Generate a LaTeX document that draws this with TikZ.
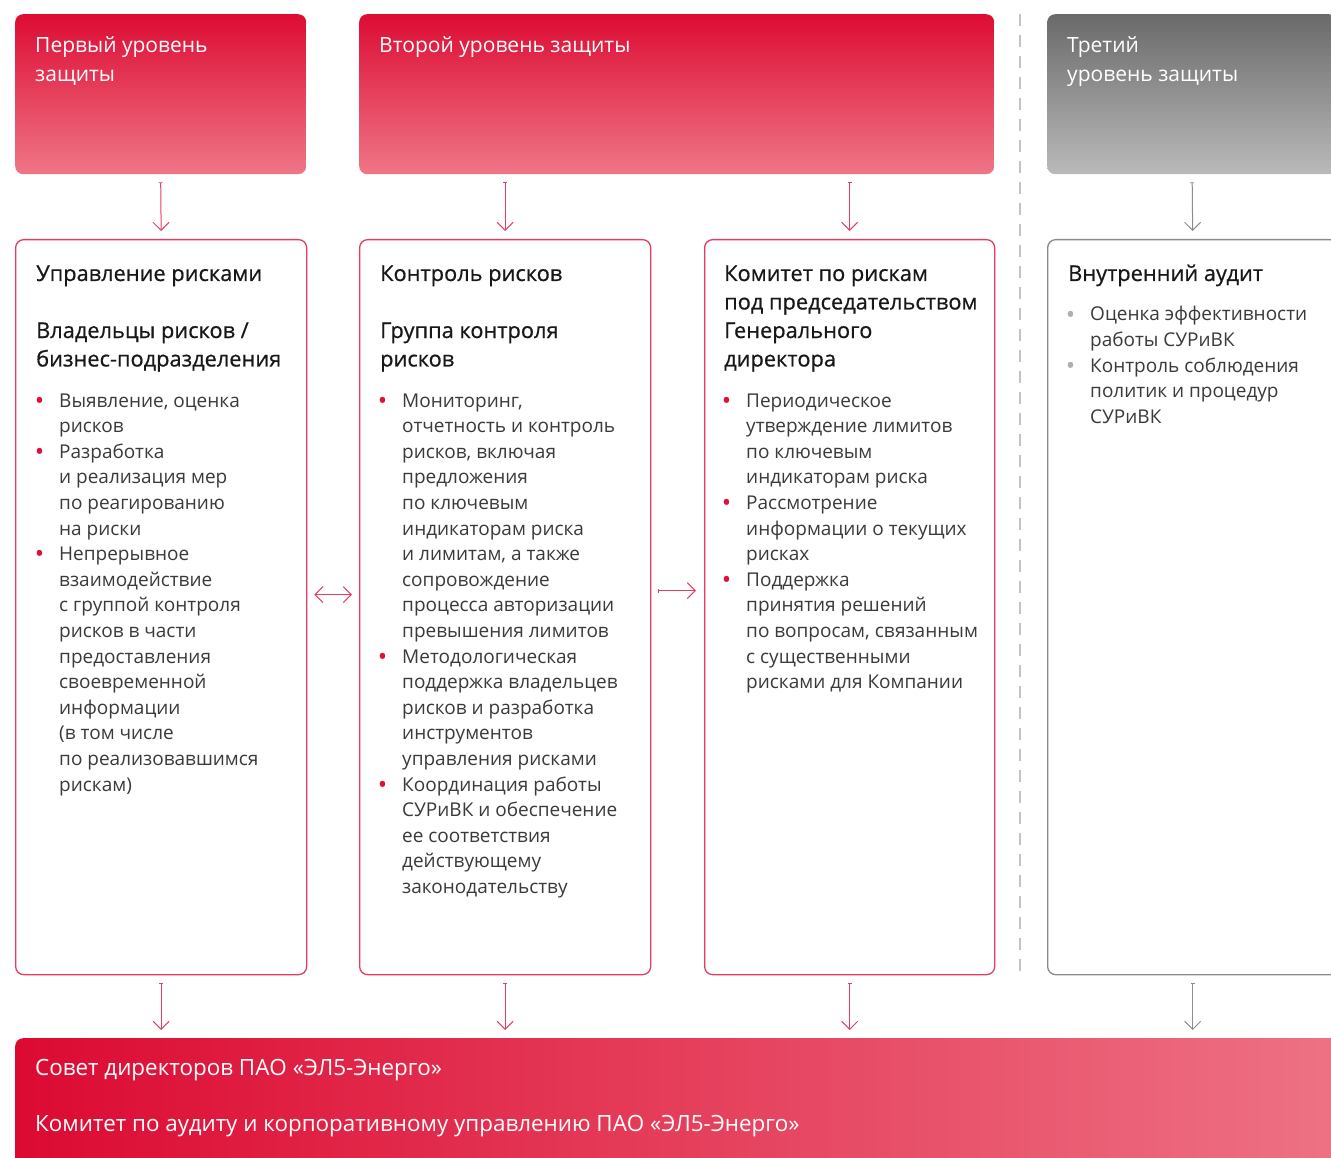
\documentclass[tikz,border=0pt]{standalone}
\usepackage{fontspec}
\setmainfont{Open Sans}
\newfontfamily\ttlfont[FakeBold=0.6]{Open Sans}
\usetikzlibrary{arrows.meta}
\definecolor{hdrtop}{RGB}{221,12,52}
\definecolor{hdrbot}{RGB}{239,118,134}
\definecolor{gtop}{RGB}{106,106,106}
\definecolor{gbot}{RGB}{186,186,186}
\definecolor{barleft}{RGB}{220,10,50}
\definecolor{barright}{RGB}{238,115,133}
\definecolor{boxred}{RGB}{228,60,94}
\definecolor{boxgray}{RGB}{138,138,138}
\definecolor{arrred}{RGB}{230,62,98}
\definecolor{arrgray}{RGB}{140,140,140}
\definecolor{dashgray}{RGB}{195,195,195}
\definecolor{titlecol}{RGB}{24,24,24}
\definecolor{bodycol}{RGB}{58,58,58}
\definecolor{bulred}{RGB}{224,16,58}
\definecolor{bulgray}{RGB}{175,175,175}
\newcommand\mkbul[1]{\llap{\raisebox{-2.2pt}{\fontsize{25}{25}\selectfont\textcolor{#1}{•}}\hspace{15pt}}}
\newcommand\bulr{\mkbul{bulred}}
\newcommand\bulg{\mkbul{bulgray}}
\begin{document}
\begin{tikzpicture}[x=1pt,y=-1pt,
  hdrbox/.style={rectangle, rounded corners=8pt, top color=hdrtop, bottom color=hdrbot, draw=none, anchor=north west, inner sep=0pt},
  hdrgray/.style={rectangle, rounded corners=8pt, top color=gtop, bottom color=gbot, draw=none, anchor=north west, inner sep=0pt},
  redbox/.style={rectangle, rounded corners=8pt, draw=boxred, line width=1.3pt, fill=white, anchor=north west, inner sep=0pt, minimum height=735pt},
  graybox/.style={rectangle, rounded corners=8pt, draw=boxgray, line width=1.3pt, fill=white, anchor=north west, inner sep=0pt, minimum height=735pt},
  barbox/.style={rectangle, rounded corners=8pt, left color=barleft, right color=barright, draw=none, anchor=north west, inner sep=0pt},
  hdrtxt/.style={anchor=base west, inner sep=0pt, text=white, font=\fontsize{21}{29}\selectfont},
  bartxt/.style={anchor=base west, inner sep=0pt, text=white, font=\fontsize{22.4}{29}\selectfont},
  ttl/.style={anchor=base west, inner sep=0pt, text=titlecol, font=\ttlfont\fontsize{21.8}{28.5}\selectfont},
  body/.style={anchor=base west, inner sep=0pt, text=bodycol, font=\fontsize{19}{25.6}\selectfont},
  rarr/.style={draw=arrred, line width=1pt, {Bar[width=4pt,line width=0.8pt]}-{Straight Barb[length=8pt,width=16pt,line width=1pt]}},
  garr/.style={draw=arrgray, line width=1pt, {Bar[width=4pt,line width=0.8pt]}-{Straight Barb[length=8pt,width=16pt,line width=1pt]}},
  darr/.style={draw=arrred, line width=1pt, {Straight Barb[length=8pt,width=16pt,line width=1pt]}-{Straight Barb[length=8pt,width=16pt,line width=1pt]}},
  dashline/.style={draw=dashgray, line width=2.5pt, dash pattern=on 12pt off 9pt}
]
\useasboundingbox (0,0) rectangle (1331,1158);
\begin{scope}
\clip (0,0) rectangle (1331,1158);

% dashed separator
\coordinate (dtop) at (1020,14);
\coordinate (dbot) at (1020,974);
\draw[dashline] (dtop) -- (dbot);

% header boxes
\node[hdrbox, minimum width=291pt, minimum height=160pt] (h1) at (15,14) {};
\node[hdrbox, minimum width=635pt, minimum height=160pt] (h2) at (359,14) {};
\node[hdrgray, minimum width=290pt, minimum height=160pt] (h3) at (1047,14) {};

\node[hdrtxt] (h1t1) at (35,52.7) {Первый уровень};
\node[hdrtxt] (h1t2) at (35,81.3) {защиты};
\node[hdrtxt] (h2t1) at (379,52.7) {Второй уровень защиты};
\node[hdrtxt] (h3t1) at (1067,52.7) {Третий};
\node[hdrtxt] (h3t2) at (1067,81.3) {уровень защиты};

% content boxes
\node[redbox, minimum width=291pt] (a) at (15,239) {};
\node[redbox, minimum width=291pt] (b) at (359,239) {};
\node[redbox, minimum width=290pt] (c) at (704,239) {};
\node[graybox, minimum width=290pt] (d) at (1047,239) {};

% bottom bar
\node[barbox, minimum width=1340pt, minimum height=140pt] (bar) at (15,1038) {};
\node[bartxt] (bar1) at (35,1075.5) {Совет директоров ПАО «ЭЛ5-Энерго»};
\node[bartxt] (bar2) at (35,1131.5) {Комитет по аудиту и корпоративному управлению ПАО «ЭЛ5-Энерго»};

% titles
\node[ttl] (at1) at (36,281) {Управление рисками};
\node[ttl] (at2) at (36,338) {Владельцы рисков /};
\node[ttl] (at3) at (36,366.5) {бизнес-подразделения};
\node[ttl] (bt1) at (380,281) {Контроль рисков};
\node[ttl] (bt2) at (380,338) {Группа контроля};
\node[ttl] (bt3) at (380,366.5) {рисков};
\node[ttl] (ct1) at (724,281) {Комитет по рискам};
\node[ttl] (ct2) at (724,309.5) {под председательством};
\node[ttl] (ct3) at (724,338) {Генерального};
\node[ttl] (ct4) at (724,366.5) {директора};
\node[ttl] (dt1) at (1068,281) {Внутренний аудит};

% bullet lists
\foreach \t [count=\i] in {{\bulr Выявление, оценка},{рисков},{\bulr Разработка},{и реализация мер},{по реагированию},{на риски},{\bulr Непрерывное},{взаимодействие},{с группой контроля},{рисков в части},{предоставления},{своевременной},{информации},{(в том числе},{по реализовавшимся},{рискам)}}
  \node[body] (al\i) at (59,{407+25.6*(\i-1)}) {\t};

\foreach \t [count=\i] in {{\bulr Мониторинг,},{отчетность и контроль},{рисков, включая},{предложения},{по ключевым},{индикаторам риска},{и лимитам, а также},{сопровождение},{процесса авторизации},{превышения лимитов},{\bulr Методологическая},{поддержка владельцев},{рисков и разработка},{инструментов},{управления рисками},{\bulr Координация работы},{СУРиВК и обеспечение},{ее соответствия},{действующему},{законодательству}}
  \node[body] (bl\i) at (402,{407+25.6*(\i-1)}) {\t};

\foreach \t [count=\i] in {{\bulr Периодическое},{утверждение лимитов},{по ключевым},{индикаторам риска},{\bulr Рассмотрение},{информации о текущих},{рисках},{\bulr Поддержка},{принятия решений},{по вопросам, связанным},{с существенными},{рисками для Компании}}
  \node[body] (cl\i) at (746,{407+25.6*(\i-1)}) {\t};

\foreach \t [count=\i] in {{\bulg Оценка эффективности},{работы СУРиВК},{\bulg Контроль соблюдения},{политик и процедур},{СУРиВК}}
  \node[body] (dl\i) at (1090,{321+25.6*(\i-1)}) {\t};

% vertical arrows: headers -> boxes
\coordinate (h2b) at (h2.south -| b.north);
\coordinate (h2c) at (h2.south -| c.north);
\draw[rarr] ([shift={(0,8)}]h1.south) -- ([shift={(0,-8)}]a.north);
\draw[rarr] ([shift={(0,8)}]h2b) -- ([shift={(0,-8)}]b.north);
\draw[rarr] ([shift={(0,8)}]h2c) -- ([shift={(0,-8)}]c.north);
\draw[garr] ([shift={(0,8)}]h3.south) -- ([shift={(0,-8)}]d.north);

% vertical arrows: boxes -> bar
\coordinate (bara) at (bar.north -| a.south);
\coordinate (barb) at (bar.north -| b.south);
\coordinate (barc) at (bar.north -| c.south);
\coordinate (bard) at (bar.north -| d.south);
\draw[rarr] ([shift={(0,8)}]a.south) -- ([shift={(0,-8)}]bara);
\draw[rarr] ([shift={(0,8)}]b.south) -- ([shift={(0,-8)}]barb);
\draw[rarr] ([shift={(0,8)}]c.south) -- ([shift={(0,-8)}]barc);
\draw[garr] ([shift={(0,8)}]d.south) -- ([shift={(0,-8)}]bard);

% horizontal arrows
\draw[darr] ([shift={(7,-12.5)}]a.east) -- ([shift={(-7,-12.5)}]b.west);
\draw[rarr] ([shift={(7,-16.5)}]b.east) -- ([shift={(-8,-16.5)}]c.west);
\end{scope}
\end{tikzpicture}
\end{document}
